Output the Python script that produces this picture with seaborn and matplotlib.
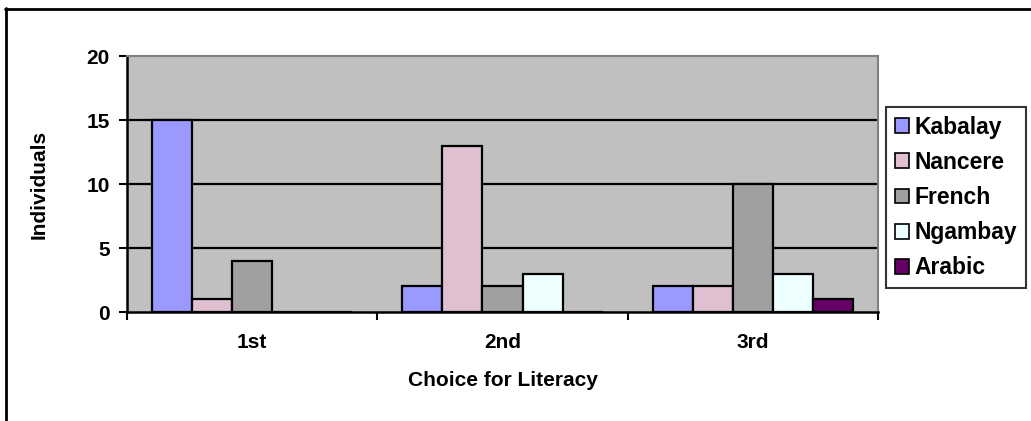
import matplotlib

matplotlib.use("Agg")

import matplotlib.pyplot as plt
import pandas as pd
import seaborn as sns
from matplotlib.lines import Line2D
from matplotlib.patches import Patch

# Data
CHOICES = ["1st", "2nd", "3rd"]
LANGUAGES = ["Kabalay", "Nancere", "French", "Ngambay", "Arabic"]
kabalay = [15, 2, 2]
nancere = [1, 13, 2]
french = [4, 2, 10]
ngambay = [0, 3, 3]
arabic = [0, 0, 1]
COLORS = ["#9999FF", "#DFBFD0", "#A0A0A0", "#EEFFFF", "#660066"]

df = pd.DataFrame(
    {
        "choice": CHOICES * len(LANGUAGES),
        "language": [lang for lang in LANGUAGES for _ in CHOICES],
        "individuals": kabalay + nancere + french + ngambay + arabic,
    }
)
palette = dict(zip(LANGUAGES, COLORS))

sns.set_theme(style="white")
plt.rcParams["font.family"] = ["Liberation Sans", "DejaVu Sans"]
plt.rcParams.update(
    {
        "font.weight": "bold",
        "text.color": "black",
        "axes.labelcolor": "black",
        "xtick.color": "black",
        "ytick.color": "black",
    }
)

W, H = 1031, 421
fig = plt.figure(figsize=(W / 100, H / 100), dpi=100)
ax = fig.add_axes([127 / W, 1 - 312 / H, (878 - 127) / W, (312 - 56) / H])
ax.set_facecolor("#C0C0C0")

sns.barplot(
    data=df,
    x="choice",
    y="individuals",
    hue="language",
    order=CHOICES,
    hue_order=LANGUAGES,
    palette=palette,
    width=0.8,
    edgecolor="black",
    linewidth=1.6,
    saturation=1,
    legend=False,
    ax=ax,
    zorder=3,
)

ax.set_xlim(-0.5, 2.5)
ax.set_ylim(0, 20)
ax.set_yticks([0, 5, 10, 15, 20])
for y in [5, 10, 15]:
    ax.axhline(y, color="black", linewidth=1.6, zorder=1)

ax.set_xticks([-0.5, 0.5, 1.5, 2.5], minor=True)
ax.tick_params(axis="x", which="major", length=0, pad=15, labelsize=15)
ax.tick_params(axis="x", which="minor", direction="out", length=6, width=1.5,
               color="black", bottom=True)
ax.tick_params(axis="y", direction="out", length=6, width=1.5, color="black",
               left=True, pad=6.5, labelsize=15)
for label in ax.get_xticklabels() + ax.get_yticklabels():
    label.set_fontweight("bold")

ax.set_xlabel("Choice for Literacy", fontsize=15, fontweight="bold", labelpad=14)
ax.set_ylabel("Individuals", fontsize=15, fontweight="bold", labelpad=27)

for side in ["left", "bottom"]:
    ax.spines[side].set_color("black")
    ax.spines[side].set_linewidth(1.8)
for side in ["top", "right"]:
    ax.spines[side].set_color("#808080")
    ax.spines[side].set_linewidth(1.5)

handles = [Patch(facecolor=c, edgecolor="black", linewidth=1.2) for c in COLORS]
leg = fig.legend(
    handles,
    LANGUAGES,
    loc="upper left",
    bbox_to_anchor=(886 / W, 1 - 107 / H),
    prop={"weight": "bold", "size": 16.5},
    handlelength=0.62,
    handleheight=0.62,
    handletextpad=0.25,
    labelspacing=0.53,
    borderpad=0.38,
    borderaxespad=0,
    fancybox=False,
    frameon=True,
)
leg.get_frame().set_edgecolor("black")
leg.get_frame().set_linewidth(1.5)

# outer chart frame
fig.add_artist(Line2D([5.5 / W, 5.5 / W], [0, 1 - 8 / H], color="black", linewidth=2))
fig.add_artist(Line2D([5 / W, 1], [1 - 8.5 / H, 1 - 8.5 / H], color="black", linewidth=2))

fig.savefig("out.png", dpi=100)
